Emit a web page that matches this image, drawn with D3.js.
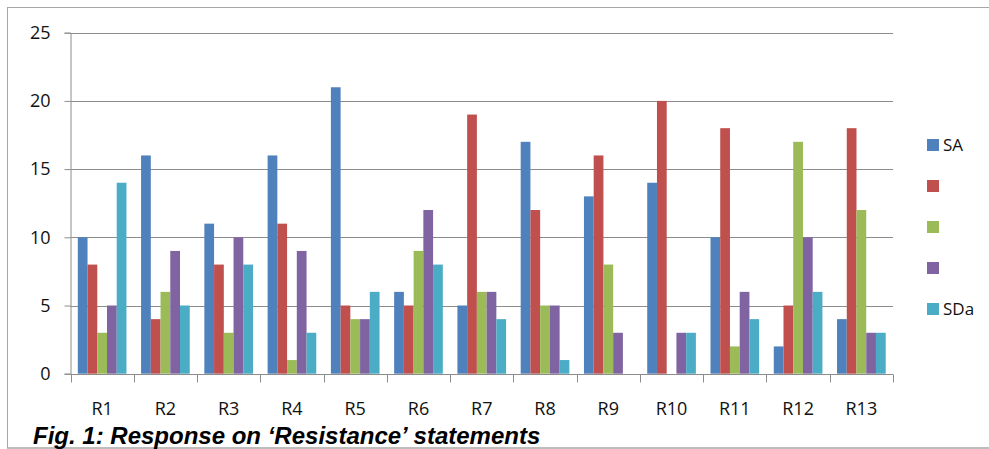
<!DOCTYPE html>
<html>
<head>
<meta charset="utf-8">
<script src="https://cdn.jsdelivr.net/npm/d3@7/dist/d3.min.js"></script>
<style>
  html, body { margin: 0; padding: 0; background: #fff; }
  svg { display: block; }
</style>
</head>
<body>
<svg id="chart" width="989" height="449"></svg>
<script>
const categories = ["R1","R2","R3","R4","R5","R6","R7","R8","R9","R10","R11","R12","R13"];
const seriesNames = ["SA", "", "", "", "SDa"];
const seriesColors = ["#4F81BD", "#C0504D", "#9BBB59", "#8064A2", "#4BACC6"];
const SA  = [10, 16, 11, 16, 21, 6, 5, 17, 13, 14, 10, 2, 4];
const S2  = [8, 4, 8, 11, 5, 5, 19, 12, 16, 20, 18, 5, 18];
const S3  = [3, 6, 3, 1, 4, 9, 6, 5, 8, 0, 2, 17, 12];
const S4  = [5, 9, 10, 9, 4, 12, 6, 5, 3, 3, 6, 10, 3];
const SDa = [14, 5, 8, 3, 6, 8, 4, 1, 0, 3, 4, 6, 3];
const seriesValues = [SA, S2, S3, S4, SDa];
const yTicks = [0, 5, 10, 15, 20, 25];
const caption = "Fig. 1: Response on \u2018Resistance\u2019 statements";

(function () {
const svg = d3.select("#chart");
const font = "'Open Sans', 'Liberation Sans', sans-serif";

// outer frame
svg.append("rect").attr("x", 7.5).attr("y", 7.5).attr("width", 1000).attr("height", 440.5)
  .attr("fill", "none").attr("stroke", "#A6A6A6").attr("stroke-width", 1);

const pL = 70.5, pR = 893, pT = 32.7, pB = 373.7;
const x = d3.scaleBand().domain(categories).range([pL, pR]).paddingInner(0).paddingOuter(0);
const y = d3.scaleLinear().domain([0, 25]).range([pB, pT]);
const barW = x.bandwidth() / 6.5;
const xs = d3.scaleBand().domain(d3.range(5)).range([barW * 0.75, barW * 5.75]).padding(0);

// gridlines
svg.append("g").selectAll("line").data(yTicks).join("line")
  .attr("x1", pL).attr("x2", pR)
  .attr("y1", d => Math.round(y(d)) + 0.5).attr("y2", d => Math.round(y(d)) + 0.5)
  .attr("stroke", "#8C8C8C").attr("stroke-width", 1);

// bars
const g = svg.append("g");
seriesValues.forEach((vals, si) => {
  g.selectAll(null).data(vals).join("rect")
    .attr("x", (d, i) => x(categories[i]) + xs(si))
    .attr("y", d => y(d))
    .attr("width", xs.bandwidth())
    .attr("height", d => y(0) - y(d))
    .attr("fill", seriesColors[si]);
});

// y axis
const yAxis = d3.axisLeft(y).tickValues(yTicks).tickSize(6).tickPadding(14);
const ya = svg.append("g").attr("transform", `translate(${pL},0)`).call(yAxis);
ya.select(".domain").attr("stroke", "#8C8C8C");
ya.selectAll(".tick line").attr("stroke", "#8C8C8C");
ya.selectAll(".tick text").attr("font-family", font).attr("font-size", 18).attr("fill", "#111");

// x axis
const xa = svg.append("g").attr("transform", `translate(0,${Math.round(pB) + 0.5})`);
xa.append("line").attr("x1", pL).attr("x2", pR).attr("stroke", "#8C8C8C");
const bounds = categories.map(c => x(c)).concat([pR]);
xa.selectAll("line.tk").data(bounds).join("line").attr("class", "tk")
  .attr("x1", d => Math.round(d) + 0.5).attr("x2", d => Math.round(d) + 0.5)
  .attr("y1", 0).attr("y2", 8).attr("stroke", "#8C8C8C");
xa.selectAll("text").data(categories).join("text")
  .attr("x", d => x(d) + x.bandwidth() / 2).attr("y", 40)
  .attr("text-anchor", "middle").attr("font-family", font).attr("font-size", 18).attr("fill", "#111")
  .text(d => d);

// legend
const lg = svg.append("g");
seriesNames.forEach((n, i) => {
  const cy = 145 + i * 41;
  lg.append("rect").attr("x", 927).attr("y", cy - 6).attr("width", 12).attr("height", 12).attr("fill", seriesColors[i]);
  lg.append("text").attr("x", 943).attr("y", cy + 6).attr("font-family", font).attr("font-size", 17)
    .attr("fill", "#111").text(n);
});

// caption
svg.append("line").attr("x1", 7).attr("x2", 989).attr("y1", 448).attr("y2", 448)
  .attr("stroke", "#A6A6A6");
const cap = svg.append("text").attr("x", 33).attr("y", 444)
  .attr("font-family", "'Liberation Sans', Arial, sans-serif")
  .attr("font-size", 22).attr("font-weight", "bold").attr("font-style", "italic").attr("fill", "#000")
  .text(caption);
const w = cap.node().getComputedTextLength();
if (w > 0) cap.attr("font-size", Math.min(24, 22 * 532 / w));
})();
</script>
</body>
</html>
